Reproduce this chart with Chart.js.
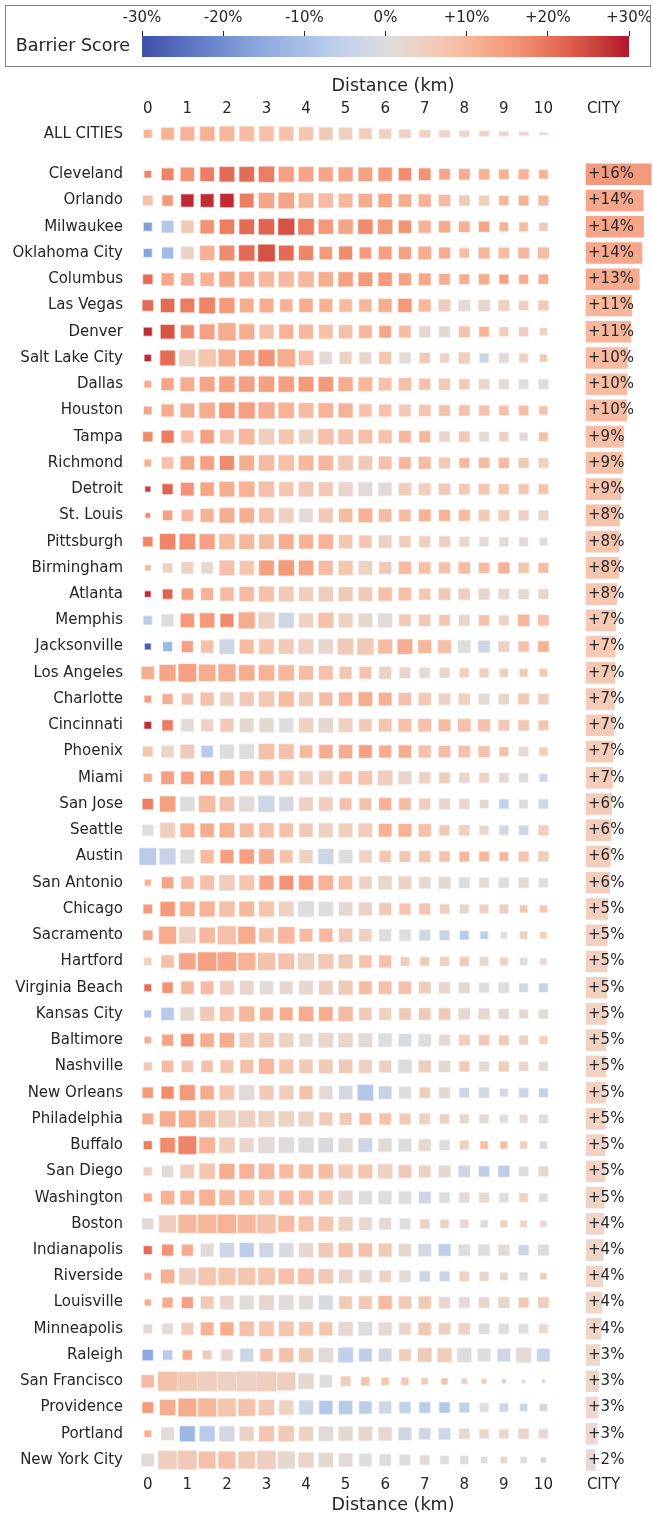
<!DOCTYPE html>
<html>
<head>
<meta charset="utf-8">
<title>Barrier Score by distance</title>
<script src="https://cdn.jsdelivr.net/npm/chart.js@4.4.1/dist/chart.umd.min.js"></script>
<style>
  html, body { margin: 0; padding: 0; background: #fff; }
  body { width: 653px; height: 1516px; position: relative; overflow: hidden; }
  #main { position: absolute; left: 0; top: 0; }
  #legendBox {
    position: absolute; left: 5px; top: 5px; width: 646px; height: 62px;
    box-sizing: border-box; border: 1px solid #7f7f7f; background: #fff; z-index: 2;
  }
  #legend { display: block; }
</style>
</head>
<body>
<div id="legendBox"><canvas id="legend" width="644" height="60"></canvas></div>
<canvas id="main" width="653" height="1516"></canvas>
<script>
// ---- data ----
const distances = [0, 0.5, 1, 1.5, 2, 2.5, 3, 3.5, 4, 4.5, 5, 5.5, 6, 6.5, 7, 7.5, 8, 8.5, 9, 9.5, 10];
const distanceTicks = [0, 1, 2, 3, 4, 5, 6, 7, 8, 9, 10];
const scoreTicks = [-30, -20, -10, 0, 10, 20, 30];

const cities = [
  'Cleveland', 'Orlando', 'Milwaukee', 'Oklahoma City', 'Columbus', 'Las Vegas', 'Denver',
  'Salt Lake City', 'Dallas', 'Houston', 'Tampa', 'Richmond', 'Detroit', 'St. Louis',
  'Pittsburgh', 'Birmingham', 'Atlanta', 'Memphis', 'Jacksonville', 'Los Angeles',
  'Charlotte', 'Cincinnati', 'Phoenix', 'Miami', 'San Jose', 'Seattle', 'Austin',
  'San Antonio', 'Chicago', 'Sacramento', 'Hartford', 'Virginia Beach', 'Kansas City',
  'Baltimore', 'Nashville', 'New Orleans', 'Philadelphia', 'Buffalo', 'San Diego',
  'Washington', 'Boston', 'Indianapolis', 'Riverside', 'Louisville', 'Minneapolis',
  'Raleigh', 'San Francisco', 'Providence', 'Portland', 'New York City'
];

// overall city score (%), CITY column
const cityScores = [
  16.3, 14.3, 14.4, 14.0, 13.3, 11.4, 11.2, 10.4, 10.3, 10.2, 9.4, 9.2, 8.8, 8.4, 8.3,
  8.2, 7.7, 7.4, 7.3, 7.2, 7.1, 6.9, 6.8, 6.6, 6.4, 6.3, 6.1, 5.9, 5.4, 5.3, 5.3, 5.2,
  5.1, 5.0, 5.0, 4.9, 4.8, 4.8, 4.8, 4.6, 4.4, 4.3, 4.2, 4.0, 3.8, 3.4, 3.2, 3.0, 2.8, 2.3
];

// ALL CITIES row
const allScores = [11, 11, 11, 11, 10, 9, 8, 8, 7, 6, 5, 5, 4, 4, 4, 3, 3, 3, 3, 3, 3];
const allSamplesW = [28, 42, 45, 47, 48, 48, 48, 46, 46, 45, 43, 42, 41, 39, 37, 36, 34, 33, 33, 33, 28];
const allSamplesH = [28, 40, 45, 46, 48, 48, 48, 45, 44, 42, 40, 37, 33, 29, 26, 25, 22, 20, 17, 14, 11];

// barrier score (%) per city and distance
const cellScores = [
  [18, 18, 16, 19, 21, 21, 19, 14, 13, 13, 13, 14, 15, 17, 16, 13, 12, 11, 11, 11, 11], // Cleveland
  [8, 15, 28, 28, 28, 19, 13, 13, 10, 9, 10, 12, 13, 12, 11, 9, 6, 5, 10, 11, 10],      // Orlando
  [-17, -8, 6, 16, 19, 21, 22, 24, 19, 15, 13, 17, 15, 16, 11, 12, 11, 13, 11, 9, 6],   // Milwaukee
  [-16, -11, 4, 11, 17, 21, 24, 21, 18, 15, 17, 15, 14, 14, 12, 12, 9, 10, 9, 10, 9],   // Oklahoma City
  [21, 13, 12, 11, 13, 12, 10, 10, 10, 12, 14, 15, 15, 14, 13, 12, 12, 12, 14, 12, 12], // Columbus
  [21, 21, 19, 18, 15, 12, 12, 11, 12, 11, 9, 10, 12, 15, 10, 5, 1, 3, 4, 5, 6],        // Las Vegas
  [28, 24, 17, 14, 12, 12, 8, 11, 10, 8, 8, 10, 13, 9, 2, 2, 8, 11, 5, 5, 4],           // Denver
  [28, 21, 5, 7, 12, 14, 16, 12, 8, 1, 4, 3, 7, 1, 6, 4, 5, -3, 1, 4, 7],               // Salt Lake City
  [12, 13, 12, 13, 14, 14, 14, 14, 15, 15, 12, 10, 8, 8, 8, 6, 6, 3, 1, 0, 0],          // Dallas
  [13, 12, 12, 12, 15, 14, 12, 11, 9, 11, 11, 8, 8, 6, 7, 8, 8, 8, 8, 9, 8],            // Houston
  [17, 19, 8, 14, 8, 10, 5, 7, 4, 8, 8, 8, 8, 10, 10, 3, 6, 1, 4, 1, 8],                // Tampa
  [11, 8, 13, 14, 17, 12, 9, 8, 10, 10, 6, 6, 8, 10, 9, 6, 10, 9, 9, 6, 4],             // Richmond
  [26, 22, 16, 13, 12, 11, 8, 7, 6, 6, 3, 1, 1, 5, 5, 6, 6, 7, 7, 7, 7],                // Detroit
  [17, 14, 10, 11, 12, 12, 8, 4, 1, 6, 9, 11, 9, 9, 11, 11, 9, 6, 5, 4, 3],             // St. Louis
  [18, 18, 16, 14, 9, 10, 9, 12, 11, 11, 7, 7, 4, 5, 4, 5, 3, 1, 1, 1, 1],              // Pittsburgh
  [10, 4, 4, 2, 8, 7, 14, 15, 13, 9, 7, 4, 6, 9, 8, 8, 9, 9, 11, 7, 9],                 // Birmingham
  [28, 22, 14, 11, 9, 9, 8, 6, 5, 5, 6, 6, 8, 8, 6, 6, 5, 3, 2, 2, 3],                  // Atlanta
  [-7, 0, 15, 15, 17, 12, 4, -3, 4, 8, 4, 2, 1, 6, 6, 7, 3, 8, 4, 10, 8],               // Memphis
  [-28, -12, 14, 8, -3, 9, 7, 6, 4, 3, 6, 6, 9, 12, 10, 8, 0, -3, 4, 8, 11],            // Jacksonville
  [12, 13, 14, 12, 12, 12, 11, 10, 9, 8, 7, 8, 4, 3, 1, 3, 5, 5, 5, 6, 6],              // Los Angeles
  [14, 12, 8, 8, 5, 6, 6, 9, 6, 9, 10, 12, 11, 8, 6, 4, 4, 1, 3, 6, 5],                 // Charlotte
  [28, 19, 1, 4, 6, 2, 2, 0, 4, 2, 4, 6, 7, 8, 8, 9, 8, 8, 6, 7, 7],                    // Cincinnati
  [7, 3, 6, -7, 0, 0, 8, 8, 10, 12, 12, 14, 12, 12, 8, 9, 8, 8, 8, 1, 5],               // Phoenix
  [12, 14, 14, 14, 12, 9, 9, 7, 4, 4, 8, 7, 5, 3, 4, 5, 3, 4, 2, 0, -3],                // Miami
  [19, 14, 0, 9, 8, 1, -3, -2, 4, 5, 8, 8, 11, 9, 5, 3, 3, 2, -5, 0, -3],               // San Jose
  [0, 5, 11, 12, 11, 9, 8, 8, 6, 4, 5, 5, 11, 11, 8, 6, 5, 2, -2, -3, 5],               // Seattle
  [-7, -4, 0, 9, 14, 14, 12, 8, 4, -3, 0, 4, 7, 7, 7, 8, 10, 10, 10, 7, 5],             // Austin
  [11, 13, 9, 8, 5, 7, 13, 16, 14, 11, 8, 4, 3, 4, 2, 2, 0, 1, 0, 1, 0],                // San Antonio
  [15, 15, 12, 11, 8, 10, 7, 4, 0, 0, 2, 4, 6, 7, 7, 5, 2, 4, 5, 7, 7],                 // Chicago
  [13, 12, 4, 10, 8, 12, 8, 10, 9, 10, 6, 4, 0, 0, -3, -4, -7, -6, 0, 4, 4],            // Sacramento
  [4, 8, 13, 14, 13, 11, 8, 8, 4, 6, 6, 8, 8, 5, 6, 4, 6, 2, 4, 0, 2],                  // Hartford
  [21, 16, 10, 9, 5, 3, 1, 2, 2, 5, 6, 9, 8, 8, 5, 3, 2, 0, 0, -2, -4],                 // Virginia Beach
  [-9, -7, 2, 6, 8, 10, 11, 12, 12, 12, 9, 6, 4, 6, 6, 6, 2, 2, 2, 2, 1],               // Kansas City
  [12, 13, 16, 12, 12, 6, 6, 4, 2, 3, 3, 1, 0, -1, 0, 1, 5, 6, 6, 4, 4],                // Baltimore
  [6, 9, 7, 8, 7, 8, 10, 7, 6, 6, 6, 4, 4, 0, 5, 2, 6, 2, 5, 3, 1],                     // Nashville
  [15, 17, 15, 12, 7, 1, 6, 5, 8, 1, -2, -8, -4, 0, 5, 2, -3, -2, -2, -3, -5],          // New Orleans
  [12, 12, 12, 9, 4, 4, 4, 4, 4, 6, 6, 9, 8, 6, 4, 4, 2, 1, 0, 1, 0],                   // Philadelphia
  [19, 17, 18, 11, 5, 3, 1, 0, 0, -1, 1, -3, 1, 0, 2, 0, 4, 8, 9, 4, -2],               // Buffalo
  [4, 1, 5, 7, 12, 11, 10, 9, 9, 9, 6, 7, 4, 6, 4, 2, -3, -6, -6, 0, 2],                // San Diego
  [12, 11, 11, 11, 10, 9, 7, 9, 8, 7, 2, 0, 0, 0, -3, 0, 1, 2, 0, 4, 0],                // Washington
  [1, 5, 10, 10, 11, 10, 8, 9, 8, 7, 4, 2, 1, 0, 4, 4, 2, 0, 4, 3, 2],                  // Boston
  [21, 16, 12, 1, -3, -6, -3, -1, 2, 6, 8, 8, 6, 2, -2, -6, 0, 0, 1, -3, 0],            // Indianapolis
  [12, 11, 5, 7, 7, 7, 7, 8, 8, 6, 3, 2, 4, 1, -3, -4, 4, 3, 2, 0, 6],                  // Riverside
  [12, 12, 14, 6, 3, 1, 3, 0, 1, -1, 6, 6, 9, 6, 6, 2, 1, 3, 3, 6, 5],                  // Louisville
  [1, 1, 6, 11, 12, 8, 7, 7, 7, 7, 2, 0, 1, 3, 6, 5, 4, 0, 0, 0, 2],                    // Minneapolis
  [-15, -7, 12, 6, 3, -3, 8, 8, 6, 1, -5, -6, -2, 5, 6, 5, 0, 0, -3, 1, -4],            // Raleigh
  [9, 8, 6, 5, 4, 4, 5, 5, 2, 0, 5, 7, 7, 6, 6, 8, 4, 6, -3, 0, -3],                    // San Francisco
  [15, 12, 12, 10, 7, 8, 6, 4, -3, -8, -7, -6, -3, -5, -7, -8, -5, 0, -3, -3, -3],      // Providence
  [11, 1, -12, -7, -2, 4, 7, 6, 4, 1, 2, 2, 2, -3, -3, -3, 2, 3, 3, 3, 2],              // Portland
  [1, 5, 6, 8, 8, 6, 5, 2, 3, 2, 1, 0, 0, 0, 1, 0, 0, 0, 3, 0, -3]                      // New York City
];

// relative sample size per city and distance (drives marker size)
const cellSamples = [
  [24, 39, 44, 45, 48, 48, 50, 49, 48, 46, 46, 45, 44, 41, 39, 36, 36, 35, 33, 34, 30],
  [33, 35, 41, 42, 44, 45, 50, 51, 48, 47, 45, 44, 44, 41, 41, 38, 35, 34, 32, 33, 33],
  [28, 39, 41, 44, 47, 48, 50, 52, 51, 47, 47, 47, 47, 41, 40, 38, 36, 35, 30, 30, 29],
  [28, 37, 41, 47, 48, 50, 54, 48, 46, 41, 43, 38, 42, 40, 42, 37, 32, 37, 36, 36, 37],
  [32, 40, 41, 44, 49, 48, 49, 49, 50, 47, 47, 45, 44, 40, 39, 36, 33, 35, 31, 31, 32],
  [36, 44, 45, 51, 49, 45, 45, 41, 44, 43, 42, 41, 43, 44, 40, 39, 38, 38, 37, 32, 34],
  [28, 45, 43, 48, 56, 49, 46, 46, 46, 45, 44, 42, 39, 39, 37, 36, 36, 33, 31, 31, 26],
  [23, 48, 52, 56, 54, 50, 52, 56, 47, 41, 40, 39, 40, 37, 35, 31, 38, 31, 33, 30, 25],
  [24, 40, 45, 48, 50, 50, 50, 50, 48, 47, 46, 45, 42, 41, 37, 38, 35, 35, 33, 32, 33],
  [27, 40, 45, 50, 50, 52, 52, 50, 48, 47, 46, 41, 40, 39, 38, 36, 35, 34, 32, 32, 29],
  [32, 40, 40, 44, 45, 50, 50, 48, 46, 50, 48, 45, 43, 39, 37, 35, 36, 32, 32, 28, 30],
  [24, 38, 44, 45, 46, 48, 50, 50, 48, 47, 48, 45, 42, 39, 40, 37, 33, 35, 35, 34, 33],
  [19, 34, 42, 44, 48, 50, 50, 46, 48, 46, 46, 45, 44, 41, 39, 38, 36, 36, 34, 34, 33],
  [18, 32, 38, 43, 48, 47, 48, 48, 44, 46, 44, 45, 42, 39, 39, 37, 37, 37, 36, 34, 33],
  [32, 50, 50, 49, 50, 48, 48, 48, 46, 47, 44, 41, 42, 38, 37, 36, 33, 31, 31, 30, 27],
  [20, 32, 39, 38, 48, 46, 48, 50, 47, 46, 46, 45, 40, 41, 39, 37, 38, 35, 37, 35, 33],
  [21, 32, 38, 40, 44, 47, 49, 48, 46, 47, 46, 45, 44, 42, 38, 39, 38, 37, 35, 34, 33],
  [29, 40, 44, 47, 43, 52, 52, 49, 46, 49, 46, 45, 46, 39, 38, 36, 36, 35, 33, 38, 36],
  [21, 31, 37, 41, 48, 46, 48, 48, 48, 47, 51, 53, 46, 48, 43, 43, 41, 39, 36, 35, 36],
  [41, 52, 57, 53, 55, 50, 50, 50, 46, 45, 40, 39, 40, 36, 35, 33, 31, 31, 29, 28, 27],
  [24, 34, 37, 43, 44, 46, 50, 49, 46, 43, 44, 45, 42, 41, 41, 38, 38, 36, 35, 36, 35],
  [24, 35, 41, 40, 43, 45, 46, 46, 47, 47, 45, 41, 42, 42, 42, 39, 42, 40, 36, 35, 33],
  [33, 40, 45, 38, 46, 48, 50, 48, 41, 44, 44, 42, 40, 41, 40, 38, 38, 37, 31, 32, 29],
  [28, 42, 41, 43, 47, 45, 46, 47, 44, 45, 42, 45, 48, 43, 38, 36, 34, 33, 32, 31, 27],
  [35, 50, 47, 53, 47, 49, 52, 46, 45, 45, 39, 39, 40, 39, 37, 36, 34, 29, 32, 30, 32],
  [36, 48, 45, 44, 47, 45, 47, 45, 44, 46, 45, 45, 42, 42, 41, 34, 35, 31, 31, 32, 34],
  [54, 52, 45, 43, 43, 47, 48, 42, 44, 49, 44, 41, 38, 36, 37, 35, 33, 33, 30, 34, 35],
  [22, 38, 41, 46, 50, 48, 46, 45, 46, 47, 44, 41, 44, 42, 38, 39, 36, 33, 34, 34, 31],
  [30, 47, 47, 49, 50, 48, 49, 48, 51, 47, 44, 43, 40, 37, 37, 32, 31, 30, 30, 26, 25],
  [32, 55, 53, 50, 58, 55, 47, 53, 42, 43, 44, 41, 40, 38, 36, 33, 30, 26, 22, 26, 24],
  [27, 41, 53, 59, 59, 55, 55, 51, 53, 49, 46, 41, 40, 30, 30, 31, 31, 30, 27, 26, 23],
  [24, 35, 41, 42, 45, 45, 43, 42, 45, 45, 46, 42, 42, 41, 39, 37, 36, 33, 35, 30, 30],
  [24, 41, 44, 46, 46, 49, 43, 42, 47, 45, 47, 41, 40, 39, 39, 38, 38, 37, 34, 30, 31],
  [23, 37, 41, 44, 47, 47, 47, 46, 43, 47, 46, 45, 44, 41, 41, 36, 36, 35, 33, 31, 28],
  [28, 38, 38, 38, 42, 43, 49, 46, 44, 45, 44, 43, 40, 44, 40, 38, 34, 33, 34, 31, 31],
  [35, 40, 49, 44, 47, 49, 46, 46, 43, 43, 44, 50, 42, 39, 35, 36, 33, 34, 28, 32, 30],
  [36, 50, 54, 53, 55, 54, 52, 50, 48, 43, 40, 39, 38, 37, 36, 32, 31, 31, 28, 28, 30],
  [28, 48, 57, 51, 50, 46, 52, 50, 49, 47, 46, 45, 44, 42, 39, 34, 31, 27, 25, 26, 25],
  [29, 38, 45, 50, 49, 48, 50, 46, 46, 47, 46, 45, 47, 42, 39, 39, 38, 35, 37, 32, 33],
  [28, 44, 45, 51, 49, 48, 48, 46, 46, 45, 46, 43, 43, 41, 39, 35, 34, 33, 31, 30, 29],
  [37, 55, 58, 59, 59, 58, 59, 52, 48, 47, 46, 42, 39, 35, 32, 29, 28, 26, 25, 24, 23],
  [28, 37, 37, 42, 47, 46, 46, 46, 46, 47, 46, 44, 43, 41, 41, 39, 38, 38, 37, 34, 36],
  [24, 44, 53, 56, 55, 55, 54, 50, 51, 47, 44, 41, 38, 38, 35, 33, 33, 31, 27, 28, 23],
  [22, 34, 37, 42, 44, 46, 48, 48, 45, 46, 42, 43, 44, 41, 41, 37, 36, 35, 37, 34, 36],
  [30, 35, 39, 42, 43, 47, 48, 48, 45, 43, 46, 45, 43, 39, 41, 38, 38, 35, 34, 32, 30],
  [35, 32, 32, 30, 38, 43, 41, 46, 46, 47, 48, 42, 42, 39, 45, 46, 46, 42, 42, 48, 42],
  [41, 61, 61, 62, 61, 63, 62, 58, 50, 41, 33, 29, 26, 26, 23, 22, 20, 18, 16, 14, 13],
  [36, 50, 57, 58, 57, 54, 50, 46, 46, 43, 44, 41, 40, 37, 36, 35, 33, 30, 29, 26, 25],
  [24, 42, 49, 49, 49, 46, 49, 50, 46, 47, 46, 45, 44, 42, 38, 38, 35, 31, 31, 34, 31],
  [41, 59, 60, 54, 55, 54, 59, 55, 49, 47, 44, 41, 38, 36, 32, 29, 28, 23, 23, 22, 19]
];

// ---- colours (coolwarm-like, muted blue side as in the source) ----
const COLORMAP = [
  [62, 80, 168], [80, 103, 185], [100, 127, 200], [121, 150, 213], [142, 170, 222],
  [162, 187, 229], [182, 201, 234], [202, 212, 232], [221, 221, 221], [236, 211, 198],
  [245, 196, 173], [247, 177, 148], [244, 154, 123], [236, 127, 99], [222, 96, 77],
  [200, 62, 58], [178, 22, 42]
];
const SCORE_MIN = -30, SCORE_MAX = 30;

function scoreColor(v, alpha) {
  let t = (v - SCORE_MIN) / (SCORE_MAX - SCORE_MIN);
  t = Math.min(1, Math.max(0, t)) * (COLORMAP.length - 1);
  const k = Math.min(Math.floor(t), COLORMAP.length - 2);
  const f = t - k;
  const a = COLORMAP[k], b = COLORMAP[k + 1];
  const c = a.map((x, i) => Math.round(x + (b[i] - x) * f));
  return `rgba(${c[0]},${c[1]},${c[2]},${alpha})`;
}

const pctLabel = v => (v > 0 ? '+' : '') + Math.round(v) + '%';

// ---- layout constants (axis units) ----
const X_MIN = -0.374, X_MAX = 12.77;     // distance axis range incl. CITY column
const CITY_X0 = 11.077;                  // where the CITY bars start
const PCT_UNIT = 0.1011;                 // axis units per 1 % in CITY column
const CITY_LABEL_X = 11.519;
const ALL_ROW = -1.547;                  // ALL CITIES row sits above the gap
const Y_MIN = -2.031, Y_MAX = 49.495;

const sampleToPx = n => n / 3;

Chart.defaults.font.family = "'DejaVu Sans', sans-serif";
Chart.defaults.font.size = 15;
Chart.defaults.color = '#262626';

function rectSprite(w, h, score) {
  const c = document.createElement('canvas');
  c.width = Math.ceil(w) + 2;
  c.height = Math.ceil(h) + 2;
  const g = c.getContext('2d');
  const x0 = (c.width - w) / 2, y0 = (c.height - h) / 2;
  g.fillStyle = scoreColor(score, 0.35);
  g.fillRect(x0, y0, w, h);
  g.fillStyle = scoreColor(score, 1);
  g.fillRect(x0 + 0.75, y0 + 0.75, w - 1.5, h - 1.5);
  return c;
}

// ---- datasets ----
const datasets = [];

datasets.push({
  type: 'scatter',
  data: distances.map(d => ({ x: d, y: ALL_ROW })),
  pointStyle: allScores.map((v, j) => rectSprite(sampleToPx(allSamplesW[j]), sampleToPx(allSamplesH[j]), v)),
  pointRadius: 5,
  clip: false
});

cities.forEach((name, i) => {
  datasets.push({
    type: 'scatter',
    label: name,
    data: distances.map(d => ({ x: d, y: i })),
    pointStyle: 'rect',
    pointRadius: cellSamples[i].map(n => Math.max(sampleToPx(n) - 1.5, 1) / Math.SQRT2),
    pointBackgroundColor: cellScores[i].map(v => scoreColor(v, 1)),
    pointBorderColor: cellScores[i].map(v => scoreColor(v, 0.35)),
    pointBorderWidth: 1.5,
    clip: false
  });
});

const barIndex = datasets.length;
datasets.push({
  type: 'bar',
  indexAxis: 'y',
  data: cityScores.map((v, i) => ({ x: [CITY_X0, CITY_X0 + v * PCT_UNIT], y: i })),
  backgroundColor: cityScores.map(v => scoreColor(v, 0.92)),
  borderWidth: 0,
  barThickness: 21,
  clip: false
});

const cityLabels = {
  id: 'cityLabels',
  afterDatasetsDraw(chart) {
    const meta = chart.getDatasetMeta(barIndex);
    const ctx = chart.ctx;
    ctx.save();
    ctx.font = "15px 'DejaVu Sans', sans-serif";
    ctx.fillStyle = '#262626';
    ctx.textAlign = 'left';
    ctx.textBaseline = 'middle';
    meta.data.forEach((bar, i) => {
      ctx.fillText(pctLabel(cityScores[i]), bar.base + 2, bar.y);
    });
    ctx.restore();
  }
};

function distanceAxis(position) {
  return {
    type: 'linear',
    position: position,
    min: X_MIN,
    max: X_MAX,
    bounds: 'data',
    offset: false,
    grid: { display: false, drawTicks: false },
    border: { display: false },
    afterBuildTicks(scale) {
      scale.ticks = distanceTicks.map(v => ({ value: v })).concat([{ value: CITY_LABEL_X }]);
    },
    ticks: {
      autoSkip: false,
      maxRotation: 0,
      padding: 3,
      font: { size: 15 },
      color: '#262626',
      callback: (v, i) => (i < distanceTicks.length ? String(distanceTicks[i]) : 'CITY')
    },
    title: {
      display: true,
      text: 'Distance (km)',
      font: { size: 17.5 },
      color: '#262626',
      padding: position === 'top' ? { top: 5.5, bottom: 0 } : { top: 0, bottom: 0.5 }
    },
    afterFit(scale) {
      scale.height = position === 'top' ? 51 : 43;
      scale.paddingLeft = 0;
      scale.paddingRight = 0;
    }
  };
}

const rowValues = [ALL_ROW].concat(cities.map((c, i) => i));
const rowNames = ['ALL CITIES'].concat(cities);

new Chart(document.getElementById('main'), {
  type: 'scatter',
  data: { datasets },
  options: {
    responsive: false,
    animation: false,
    events: [],
    layout: { autoPadding: false, padding: { top: 70, left: 0, right: 0, bottom: 0 } },
    plugins: { legend: { display: false }, tooltip: { enabled: false } },
    scales: {
      x: distanceAxis('bottom'),
      xTop: distanceAxis('top'),
      y: {
        type: 'linear',
        position: 'left',
        reverse: true,
        min: Y_MIN,
        max: Y_MAX,
        bounds: 'data',
        offset: false,
        grid: { display: false, drawTicks: false },
        border: { display: false },
        afterBuildTicks(scale) {
          scale.ticks = rowValues.map(v => ({ value: v }));
        },
        ticks: {
          autoSkip: false,
          padding: 10,
          font: { size: 15 },
          color: '#262626',
          callback: (v, i) => rowNames[i]
        },
        afterFit(scale) {
          scale.width = 133;
          scale.paddingTop = 0;
          scale.paddingBottom = 0;
        }
      }
    }
  },
  plugins: [cityLabels]
});

// ---- colour bar legend ----
new Chart(document.getElementById('legend'), {
  type: 'bar',
  data: {
    labels: ['Barrier Score'],
    datasets: [{
      data: [[SCORE_MIN, SCORE_MAX]],
      borderWidth: 0,
      barPercentage: 1,
      categoryPercentage: 1,
      backgroundColor(c) {
        const chart = c.chart;
        const xs = chart.scales.x;
        if (!xs || !chart.chartArea) return '#dddddd';
        const g = chart.ctx.createLinearGradient(xs.getPixelForValue(SCORE_MIN), 0, xs.getPixelForValue(SCORE_MAX), 0);
        COLORMAP.forEach((rgb, k) => g.addColorStop(k / (COLORMAP.length - 1), `rgb(${rgb[0]},${rgb[1]},${rgb[2]})`));
        return g;
      }
    }]
  },
  options: {
    indexAxis: 'y',
    responsive: false,
    animation: false,
    events: [],
    layout: { autoPadding: false, padding: { top: 0, right: 21, bottom: 9, left: 0 } },
    plugins: { legend: { display: false }, tooltip: { enabled: false } },
    scales: {
      x: {
        position: 'top',
        min: SCORE_MIN,
        max: SCORE_MAX,
        afterBuildTicks(scale) {
          scale.ticks = scoreTicks.map(v => ({ value: v }));
        },
        ticks: { padding: 4, font: { size: 15 }, color: '#262626', callback: v => pctLabel(v) },
        grid: { display: true, drawOnChartArea: false, drawTicks: true, tickLength: 5, color: '#262626' },
        border: { display: false },
        afterFit(scale) {
          scale.height = 30;
          scale.paddingLeft = 0;
          scale.paddingRight = 0;
        }
      },
      y: {
        grid: { display: false, drawTicks: false },
        border: { display: false },
        ticks: { padding: 12, font: { size: 17.5 }, color: '#262626' },
        afterFit(scale) {
          scale.width = 136;
          scale.paddingTop = 0;
          scale.paddingBottom = 0;
        }
      }
    }
  }
});
</script>
</body>
</html>
